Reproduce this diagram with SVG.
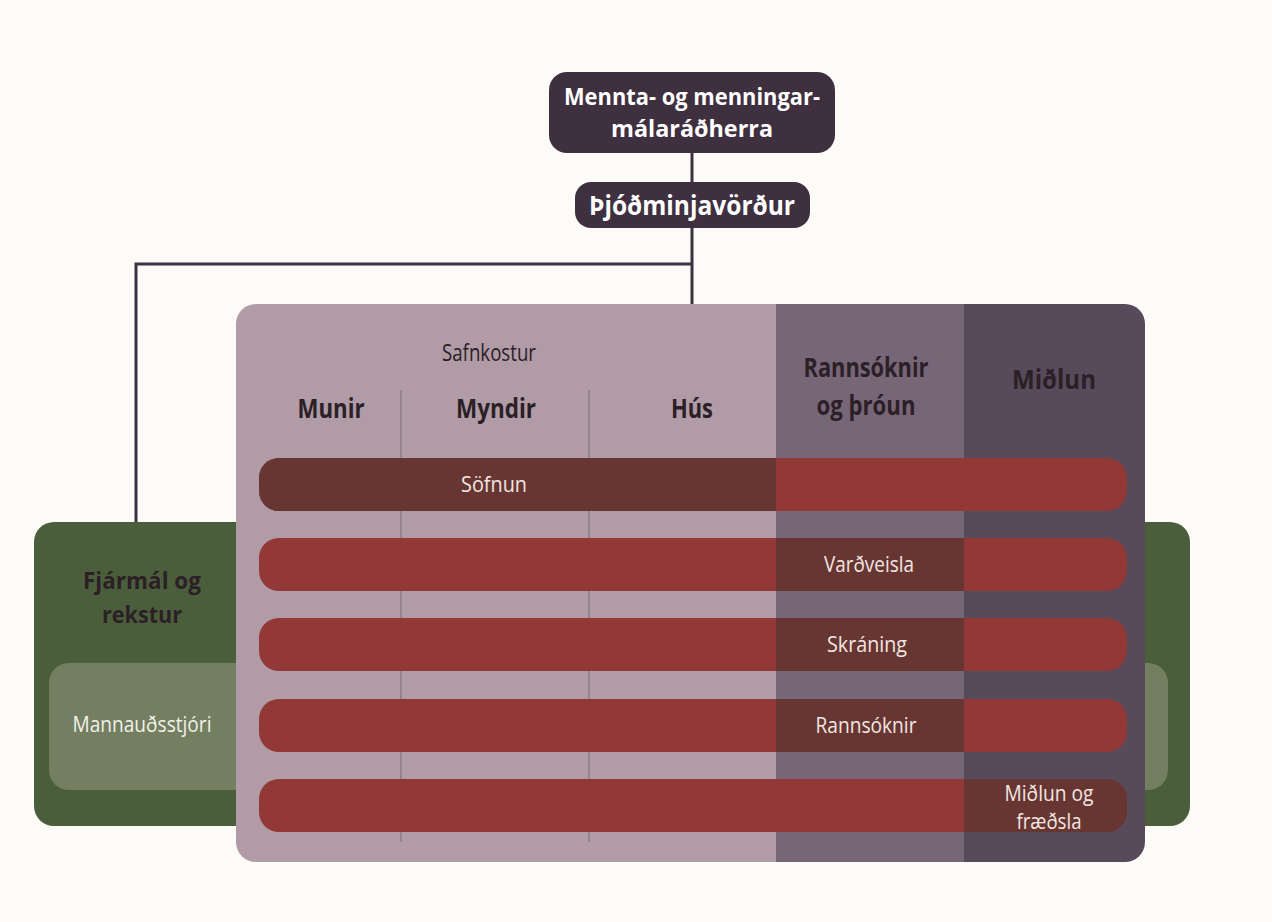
<svg xmlns="http://www.w3.org/2000/svg" width="1272" height="922" viewBox="0 0 1272 922">
  <style>
    .t { font-family: "Open Sans", "Noto Sans", "Liberation Sans", sans-serif; text-anchor: middle; }
    .b { font-weight: 700; }
    .hd { fill: #2b2026; }
    .wt { fill: #ffffff; }
    .rw { fill: #f3e6e1; font-size: 22px; }
    .conn { stroke: #3d3340; stroke-width: 3; fill: none; }
    .div { stroke: #8c7a87; stroke-width: 1.5; }
    .red { fill: #923836; }
    .dred { fill: #673632; }
  </style>
  <defs>
    <clipPath id="mainclip">
      <rect x="236" y="304" width="909" height="558" rx="20"/>
    </clipPath>
  </defs>
  <rect x="0" y="0" width="1272" height="922" fill="#fdfbf8"/>

  <g id="connectors">
    <line class="conn" x1="692" y1="150" x2="692" y2="184"/>
    <line class="conn" x1="692" y1="226" x2="692" y2="306"/>
    <polyline class="conn" points="692,264 136,264 136,524"/>
  </g>

  <g id="node-minister">
    <rect x="549" y="72" width="286" height="81" rx="18" fill="#3f3040"/>
    <text class="t b wt" x="692" y="105" font-size="22.5" textLength="256" lengthAdjust="spacingAndGlyphs">Mennta- og menningar-</text>
    <text class="t b wt" x="692" y="137" font-size="22.5" textLength="162" lengthAdjust="spacingAndGlyphs">málaráðherra</text>
  </g>

  <g id="node-director">
    <rect x="575" y="182" width="235" height="46" rx="16" fill="#3f3040"/>
    <text class="t b wt" x="692" y="215" font-size="26" textLength="206" lengthAdjust="spacingAndGlyphs">Þjóðminjavörður</text>
  </g>

  <g id="node-finance">
    <rect x="34" y="522" width="1156" height="304" rx="20" fill="#4b5e3b"/>
    <text class="t b hd" x="142" y="589" font-size="24" textLength="118" lengthAdjust="spacingAndGlyphs">Fjármál og</text>
    <text class="t b hd" x="142" y="623" font-size="24" textLength="80" lengthAdjust="spacingAndGlyphs">rekstur</text>
  </g>

  <g id="node-hr">
    <rect x="49" y="663" width="1119" height="127" rx="20" fill="#737f60"/>
    <text class="t" x="142" y="732" font-size="22" fill="#f1f1ea" textLength="139" lengthAdjust="spacingAndGlyphs">Mannauðsstjóri</text>
  </g>

  <g id="node-main">
    <g clip-path="url(#mainclip)">
      <rect x="236" y="304" width="540" height="558" fill="#b09ba6"/>
      <rect x="776" y="304" width="188" height="558" fill="#776678"/>
      <rect x="964" y="304" width="181" height="558" fill="#574a5b"/>
    </g>
    <line class="div" x1="401" y1="390" x2="401" y2="842"/>
    <line class="div" x1="589" y1="390" x2="589" y2="842"/>
    <text class="t hd" x="489" y="361" font-size="24" textLength="94" lengthAdjust="spacingAndGlyphs">Safnkostur</text>
    <text class="t b hd" x="331" y="418" font-size="26" textLength="67" lengthAdjust="spacingAndGlyphs">Munir</text>
    <text class="t b hd" x="496" y="418" font-size="26" textLength="80" lengthAdjust="spacingAndGlyphs">Myndir</text>
    <text class="t b hd" x="692" y="418" font-size="26" textLength="42" lengthAdjust="spacingAndGlyphs">Hús</text>
    <text class="t b hd" x="866" y="377" font-size="26" textLength="125" lengthAdjust="spacingAndGlyphs">Rannsóknir</text>
    <text class="t b hd" x="866" y="415" font-size="26" textLength="99" lengthAdjust="spacingAndGlyphs">og þróun</text>
    <text class="t b hd" x="1054" y="389" font-size="26" textLength="84" lengthAdjust="spacingAndGlyphs">Miðlun</text>
  </g>

  <g id="row-sofnun">
    <rect class="red" x="259" y="458" width="868" height="53" rx="20"/>
    <rect class="dred" x="259" y="458" width="540" height="53" rx="20"/>
    <rect class="red" x="776" y="458" width="40" height="53"/>
    <text class="t rw" x="494" y="492" textLength="66" lengthAdjust="spacingAndGlyphs">Söfnun</text>
  </g>

  <g id="row-vardveisla">
    <rect class="red" x="259" y="538" width="868" height="53" rx="20"/>
    <rect class="dred" x="776" y="538" width="188" height="53"/>
    <text class="t rw" x="869" y="572" textLength="90" lengthAdjust="spacingAndGlyphs">Varðveisla</text>
  </g>

  <g id="row-skraning">
    <rect class="red" x="259" y="618" width="868" height="53" rx="20"/>
    <rect class="dred" x="776" y="618" width="188" height="53"/>
    <text class="t rw" x="867" y="652" textLength="80" lengthAdjust="spacingAndGlyphs">Skráning</text>
  </g>

  <g id="row-rannsoknir">
    <rect class="red" x="259" y="699" width="868" height="53" rx="20"/>
    <rect class="dred" x="776" y="699" width="188" height="53"/>
    <text class="t rw" x="866" y="733" textLength="101" lengthAdjust="spacingAndGlyphs">Rannsóknir</text>
  </g>

  <g id="row-midlun">
    <rect class="red" x="259" y="779" width="868" height="53" rx="20"/>
    <rect class="dred" x="940" y="779" width="187" height="53" rx="20"/>
    <rect class="red" x="900" y="779" width="64" height="53"/>
    <text class="t rw" x="1049" y="801" font-size="19.5" textLength="89" lengthAdjust="spacingAndGlyphs">Miðlun og</text>
    <text class="t rw" x="1049" y="829" font-size="19.5" textLength="65" lengthAdjust="spacingAndGlyphs">fræðsla</text>
  </g>
</svg>
